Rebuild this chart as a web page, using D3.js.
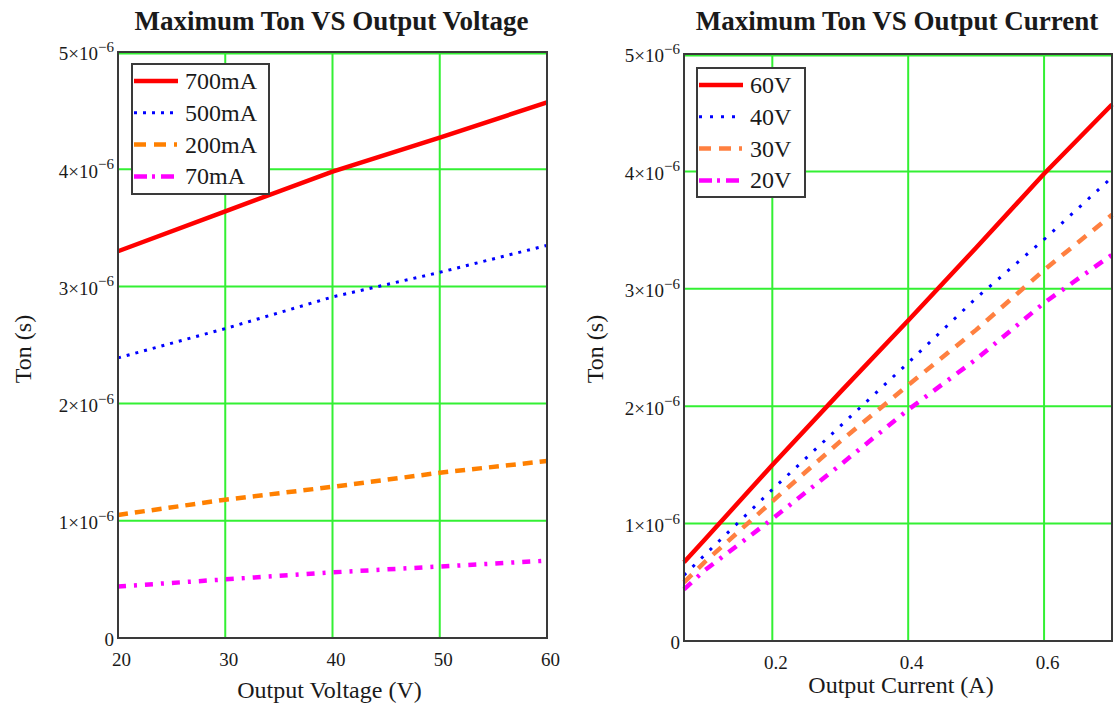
<!DOCTYPE html>
<html><head><meta charset="utf-8">
<script src="https://cdn.jsdelivr.net/npm/d3@7"></script>
<style>
body{margin:0;background:#fff;}
svg{display:block;}
text{font-family:"Liberation Serif","Times New Roman",Times,serif;fill:#1a1a1a;}
</style>
</head><body>
<svg id="c" width="1114" height="704"></svg>
<script>
// ---------- data (Ton values in microseconds, i.e. ×10^-6 s) ----------
const voltages = [20, 30, 40, 50, 60];
const ton700mA = [3.30, 3.64, 3.98, 4.27, 4.57];
const ton500mA = [2.39, 2.64, 2.91, 3.12, 3.35];
const ton200mA = [1.05, 1.18, 1.29, 1.41, 1.51];
const ton70mA  = [0.44, 0.50, 0.56, 0.61, 0.66];

const currents = [0.07, 0.1, 0.2, 0.3, 0.4, 0.5, 0.6, 0.7];
const ton60V = [0.67, 0.86, 1.50, 2.12, 2.73, 3.35, 3.98, 4.57];
const ton40V = [0.56, 0.73, 1.29, 1.83, 2.37, 2.92, 3.42, 3.95];
const ton30V = [0.50, 0.67, 1.19, 1.70, 2.18, 2.65, 3.16, 3.63];
const ton20V = [0.44, 0.60, 1.04, 1.50, 1.97, 2.40, 2.88, 3.29];

const leftSeriesNames  = ["700mA", "500mA", "200mA", "70mA"];
const rightSeriesNames = ["60V", "40V", "30V", "20V"];

const yTickMantissas = [0, 1, 2, 3, 4, 5];      // ×10^-6
const xTicksVoltage  = [20, 30, 40, 50, 60];
const xTicksCurrent  = [0.2, 0.4, 0.6];

// ---------- drawing ----------
const svg = d3.select("#c");
const GRID = "#33f033";
const FRAME = "#3a3a3a";

function panel(cfg) {
  const {x0, x1, yTop, yBot} = cfg;
  const x = d3.scaleLinear().domain(cfg.xDomain).range([x0, x1]);
  const y = d3.scaleLinear().domain([0, 5e-6]).range([yBot, yTop]);
  const g = svg.append("g");

  // grid
  g.append("g").selectAll("line.h").data(yTickMantissas).join("line")
    .attr("x1", x0).attr("x2", x1)
    .attr("y1", d => y(d * 1e-6) + (d === 5 ? 1.5 : 0))
    .attr("y2", d => y(d * 1e-6) + (d === 5 ? 1.5 : 0))
    .attr("stroke", GRID).attr("stroke-width", 2);
  g.append("g").selectAll("line.v").data(cfg.xTicks).join("line")
    .attr("x1", d => x(d)).attr("x2", d => x(d))
    .attr("y1", yTop).attr("y2", yBot)
    .attr("stroke", GRID).attr("stroke-width", 2);

  // series
  const line = d3.line().x(d => x(d[0])).y(d => y(d[1] * 1e-6));
  cfg.series.forEach(s => {
    g.append("path")
      .datum(cfg.xValues.map((xv, i) => [xv, s.values[i]]))
      .attr("d", line)
      .attr("fill", "none")
      .attr("stroke", s.color)
      .attr("stroke-width", s.width)
      .attr("stroke-dasharray", s.dash)
      .attr("stroke-linecap", "butt");
  });

  // frame
  g.append("rect").attr("x", x0).attr("y", yTop)
    .attr("width", x1 - x0).attr("height", yBot - yTop)
    .attr("fill", "none").attr("stroke", FRAME).attr("stroke-width", 2);

  // y axis
  const ya = g.append("g").attr("transform", `translate(${x0},0)`)
    .call(d3.axisLeft(y)
      .tickValues(yTickMantissas.map(d => d * 1e-6))
      .tickSize(0).tickPadding(4)
      .tickFormat(d => Math.round(d * 1e6) === 0 ? "0" : Math.round(d * 1e6) + "×10"));
  ya.select(".domain").remove();
  ya.selectAll(".tick text")
    .attr("font-size", 19).attr("dy", "0.42em")
    .attr("fill", "#1a1a1a")
    .each(function(d) {
      if (Math.round(d * 1e6) !== 0) {
        d3.select(this).append("tspan").attr("dy", -8.5)
          .attr("font-size", 15).text("−6");
      }
    });
  ya.attr("font-family", null);

  // x axis
  const xa = g.append("g").attr("transform", `translate(0,${yBot})`)
    .call(d3.axisBottom(x).tickValues(cfg.xTicks).tickSize(0).tickPadding(15)
      .tickFormat(cfg.xFormat));
  xa.select(".domain").remove();
  xa.attr("font-family", null);
  xa.selectAll(".tick text").attr("font-size", 19).attr("dx", 3).attr("fill", "#1a1a1a");

  // titles
  g.append("text").attr("x", (x0 + x1) / 2 - 1).attr("y", 30)
    .attr("text-anchor", "middle").attr("font-size", 27).attr("font-weight", "bold")
    .text(cfg.title);
  g.append("text").attr("x", (x0 + x1) / 2 + cfg.xLabelShift).attr("y", cfg.xLabelY)
    .attr("text-anchor", "middle").attr("font-size", 24).text(cfg.xLabel);
  g.append("text").attr("transform", `translate(${cfg.yLabelX},349) rotate(-90)`)
    .attr("text-anchor", "middle").attr("font-size", 24).text("Ton (s)");

  // legend
  const L = cfg.legend;
  g.append("rect").attr("x", L.x).attr("y", L.y).attr("width", L.w).attr("height", L.h)
    .attr("fill", "#fff").attr("stroke", FRAME).attr("stroke-width", 2);
  cfg.series.forEach((s, i) => {
    const yy = L.y + 17 + i * 31.8;
    g.append("line").attr("x1", L.x + 2).attr("x2", L.x + 2 + L.sample)
      .attr("y1", yy).attr("y2", yy)
      .attr("stroke", s.color).attr("stroke-width", s.width)
      .attr("stroke-dasharray", s.legendDash || s.dash);
    g.append("text").attr("x", L.x + L.textDx).attr("y", yy + 8)
      .attr("font-size", 24).text(s.name);
  });
}

panel({
  x0: 118, x1: 547, yTop: 52, yBot: 638,
  xDomain: [20, 60], xTicks: xTicksVoltage, xValues: voltages,
  xFormat: d => d3.format("d")(d),
  title: "Maximum Ton VS Output Voltage",
  xLabel: "Output Voltage (V)", xLabelY: 698, xLabelShift: -3, yLabelX: 31,
  legend: {x: 132, y: 64, w: 137, h: 130, sample: 44, textDx: 53},
  series: [
    {name: leftSeriesNames[0], values: ton700mA, color: "#ff0000", width: 4.5, dash: null},
    {name: leftSeriesNames[1], values: ton500mA, color: "#0000ff", width: 3, dash: "3,6"},
    {name: leftSeriesNames[2], values: ton200mA, color: "#ff8000", width: 4.5, dash: "10,7", legendDash: "12,8,12,8,3,6"},
    {name: leftSeriesNames[3], values: ton70mA,  color: "#ff00ff", width: 4.5, dash: "8,8,3,8", legendDash: "13,5,3,6,13"}
  ]
});

panel({
  x0: 684, x1: 1112, yTop: 54, yBot: 641,
  xDomain: [0.07, 0.7], xTicks: xTicksCurrent, xValues: currents,
  xFormat: d => d3.format(".1f")(d),
  title: "Maximum Ton VS Output Current",
  xLabel: "Output Current (A)", xLabelY: 693, xLabelShift: 3, yLabelX: 603,
  legend: {x: 697, y: 68, w: 108, h: 129, sample: 44, textDx: 53},
  series: [
    {name: rightSeriesNames[0], values: ton60V, color: "#ff0000", width: 4.5, dash: null},
    {name: rightSeriesNames[1], values: ton40V, color: "#0000ff", width: 3, dash: "3,9", legendDash: "3,8"},
    {name: rightSeriesNames[2], values: ton30V, color: "#ff8040", width: 4.5, dash: "11,9", legendDash: "12,8,12,8,3,6"},
    {name: rightSeriesNames[3], values: ton20V, color: "#ff00ff", width: 4.5, dash: "10,8,3,8", legendDash: "13,5,3,6,13"}
  ]
});
</script>
</body></html>
